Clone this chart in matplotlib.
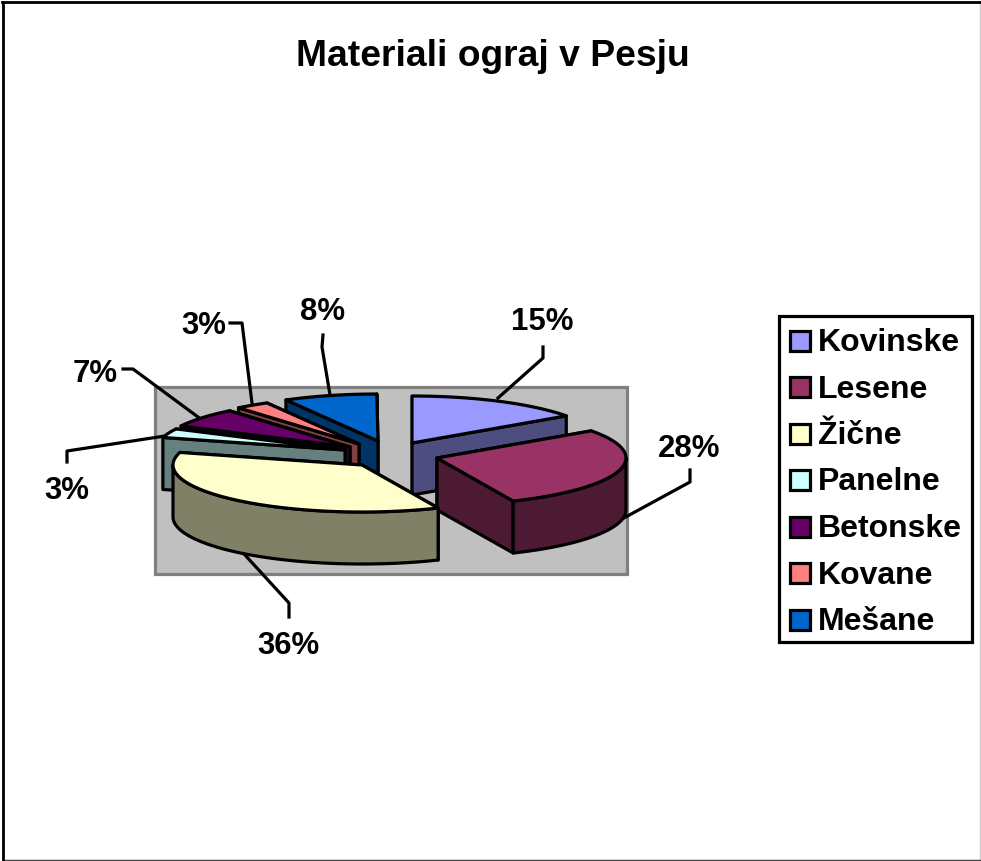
import numpy as np
import matplotlib
matplotlib.use("Agg")
import matplotlib.pyplot as plt
from matplotlib.colors import to_rgb
from matplotlib.patches import Polygon, Rectangle

plt.rcParams['font.family'] = ['Liberation Sans', 'DejaVu Sans']

title = "Materiali ograj v Pesju"
categories = ["Kovinske", "Lesene", "Žične", "Panelne", "Betonske", "Kovane", "Mešane"]
# shares as read from the slice edges, labels show them rounded
values = [15.2, 28.2, 35.9, 3.1, 6.6, 2.9, 8.0]
colors = ["#9999FF", "#993366", "#FFFFCC", "#CCFFFF", "#660066", "#FF8080", "#0066CC"]

# exploded slice tips, in picture pixels
apex_x = [412, 437, 362, 345, 350, 359, 378]
apex_y = [443, 458, 465, 450, 447, 444, 441]
# back to front
draw_order = [6, 0, 5, 4, 3, 1, 2]

rx, ry, depth = 189, 47, 52
lw = 2.3

# label position, then the leader line for it
label_xy = [(542, 322), (689, 449), (288, 646), (67, 491), (95, 374), (204, 326), (323, 312)]
leaders = [
    [(498, 398), (543, 358), (543, 347)],
    [(622, 519), (690, 482), (690, 470)],
    [(245, 555), (289, 603), (289, 617)],
    [(165, 436), (67, 451), (67, 462)],
    [(198, 417), (133, 369), (123, 369)],
    [(252, 403), (242, 323), (230, 323)],
    [(330, 395), (322, 347), (323, 335)],
]

fig = plt.figure(figsize=(9.81, 8.61), dpi=100)
ax = fig.add_axes([0, 0, 1, 1])
ax.set_xlim(0, 981)
ax.set_ylim(861, 0)
ax.axis('off')

# chart frame, right and bottom edges are fainter in the scan
ax.plot([980, 980], [2, 860], color='#C8C8C8', lw=1)
ax.plot([3, 980], [860, 860], color='#404040', lw=1)
ax.plot([3, 3], [2, 860], color='black', lw=2)
ax.plot([2, 980], [2, 2], color='black', lw=2)
ax.text(492.5, 56, title, ha='center', va='center', fontsize=26.8, fontweight='bold')

# plot area
ax.add_patch(Rectangle((155, 387), 472, 187, fc='#C0C0C0', ec='#808080', lw=lw, zorder=1))


def rim(cx, cy, t):
    return np.column_stack([cx + rx * np.sin(t), cy - ry * np.cos(t)])


def extrude(pts):
    low = pts[::-1] + [0, depth]
    return np.vstack([pts, low])


edges = np.radians(np.cumsum([0] + values) * 3.6)
z = 3
for i in draw_order:
    t0, t1 = edges[i], edges[i + 1]
    cx, cy = apex_x[i], apex_y[i]
    side = tuple(c * 0.5 for c in to_rgb(colors[i]))
    tip = np.array([[cx, cy]], dtype=float)
    walls = []
    for t in (t0, t1):
        walls.append(extrude(np.vstack([tip, rim(cx, cy, np.array([t]))])))
    walls.sort(key=lambda w: w[:, 1].mean())
    a0, a1 = max(t0, np.pi / 2), min(t1, 3 * np.pi / 2)
    if a1 > a0:
        walls.append(extrude(rim(cx, cy, np.linspace(a0, a1, 80))))
    for w in walls:
        ax.add_patch(Polygon(w, closed=True, fc=side, ec='black', lw=lw, joinstyle='round', zorder=z))
        z += 1
    top = np.vstack([tip, rim(cx, cy, np.linspace(t0, t1, 80))])
    ax.add_patch(Polygon(top, closed=True, fc=colors[i], ec='black', lw=lw, joinstyle='round', zorder=z))
    z += 1

# leaders and percentages
for val, xy, line in zip(values, label_xy, leaders):
    xs, ys = zip(*line)
    ax.plot(xs, ys, color='black', lw=lw, zorder=2)
    ax.text(xy[0], xy[1], "%.0f%%" % val, ha='center', va='center', fontsize=22.4, fontweight='bold', zorder=200)

# legend
ax.add_patch(Rectangle((779, 316), 193, 326, fc='white', ec='black', lw=lw, zorder=100))
for i, name in enumerate(categories):
    y = 340.5 + i * 46.5
    ax.add_patch(Rectangle((789.5, y - 10), 20, 20, fc=colors[i], ec='black', lw=lw, zorder=101))
    ax.text(818, y + 2.5, name, ha='left', va='center', fontsize=23, fontweight='bold', zorder=101)

fig.savefig('out.png', dpi=100)
